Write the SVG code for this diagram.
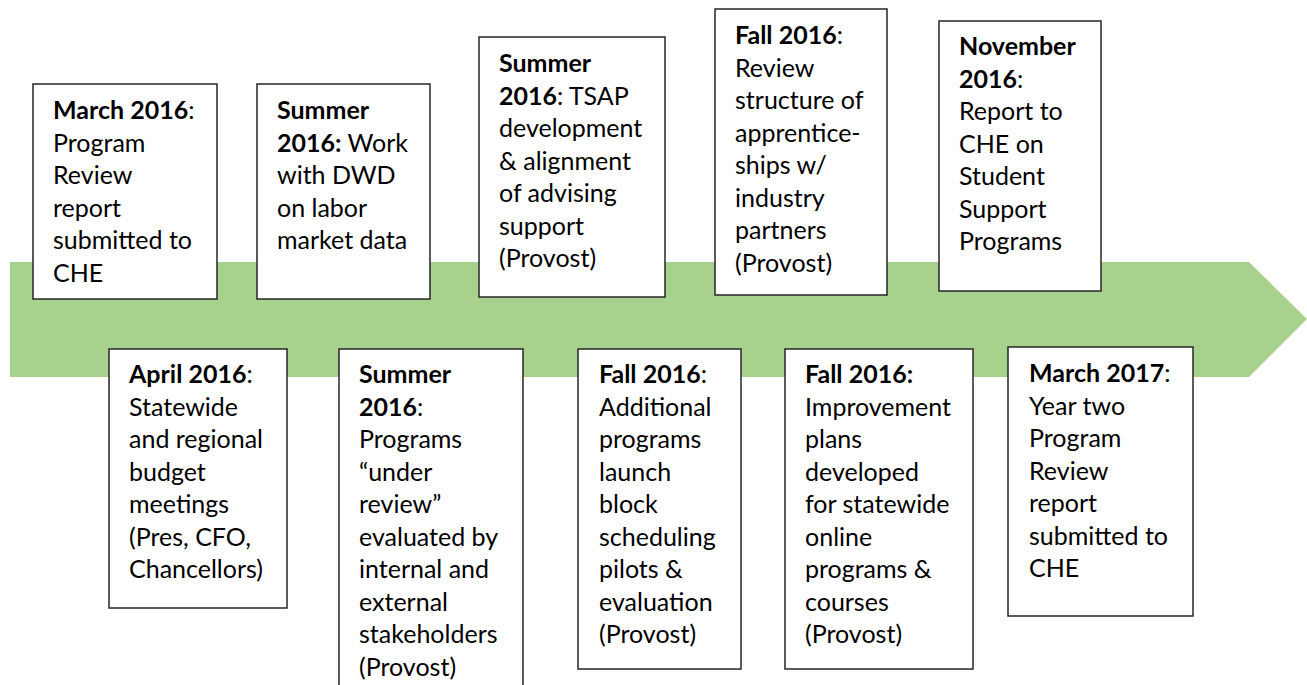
<svg xmlns="http://www.w3.org/2000/svg" width="1307" height="685" viewBox="0 0 1307 685">
<style>
.box{fill:#fff;stroke:#262626;stroke-width:1.5}
.t{font-family:Lato,"Open Sans",sans-serif;font-size:25px;fill:#000}
.b{font-weight:bold}
</style>
<rect width="1307" height="685" fill="#fff"/>
<g id="connectors">
<polygon id="timeline" points="10,262 1249,262 1307,319 1249,377 10,377" fill="#A9D18E"/>
</g>
<g id="n1">
<rect class="box" x="33" y="84" width="184" height="215"/>
<text class="t" x="53" y="119"><tspan class="b">March 2016</tspan>:<tspan x="53" dy="32.5">Program</tspan><tspan x="53" dy="32.5">Review</tspan><tspan x="53" dy="32.5">report</tspan><tspan x="53" dy="32.5">submitted to</tspan><tspan x="53" dy="32.5">CHE</tspan></text>
</g>
<g id="n2">
<rect class="box" x="257" y="84" width="173" height="215"/>
<text class="t" x="277" y="119"><tspan class="b">Summer</tspan><tspan x="277" dy="32.5" class="b">2016:</tspan> Work<tspan x="277" dy="32.5">with DWD</tspan><tspan x="277" dy="32.5">on labor</tspan><tspan x="277" dy="32.5">market data</tspan></text>
</g>
<g id="n3">
<rect class="box" x="479" y="37" width="186" height="260"/>
<text class="t" x="499" y="72"><tspan class="b">Summer</tspan><tspan x="499" dy="32.5" class="b">2016</tspan>: TSAP<tspan x="499" dy="32.5">development</tspan><tspan x="499" dy="32.5">&amp; alignment</tspan><tspan x="499" dy="32.5">of advising</tspan><tspan x="499" dy="32.5">support</tspan><tspan x="499" dy="32.5">(Provost)</tspan></text>
</g>
<g id="n4">
<rect class="box" x="715" y="9" width="172" height="286"/>
<text class="t" x="735" y="44"><tspan class="b">Fall 2016</tspan>:<tspan x="735" dy="32.5">Review</tspan><tspan x="735" dy="32.5">structure of</tspan><tspan x="735" dy="32.5">apprentice-</tspan><tspan x="735" dy="32.5">ships w/</tspan><tspan x="735" dy="32.5">industry</tspan><tspan x="735" dy="32.5">partners</tspan><tspan x="735" dy="32.5">(Provost)</tspan></text>
</g>
<g id="n5">
<rect class="box" x="939" y="21" width="162" height="270"/>
<text class="t" x="959" y="55"><tspan class="b">November</tspan><tspan x="959" dy="32.5" class="b">2016</tspan>:<tspan x="959" dy="32.5">Report to</tspan><tspan x="959" dy="32.5">CHE on</tspan><tspan x="959" dy="32.5">Student</tspan><tspan x="959" dy="32.5">Support</tspan><tspan x="959" dy="32.5">Programs</tspan></text>
</g>
<g id="n6">
<rect class="box" x="109" y="349" width="178" height="259"/>
<text class="t" x="129" y="383"><tspan class="b">April 2016</tspan>:<tspan x="129" dy="32.5">Statewide</tspan><tspan x="129" dy="32.5">and regional</tspan><tspan x="129" dy="32.5">budget</tspan><tspan x="129" dy="32.5">meetings</tspan><tspan x="129" dy="32.5">(Pres, CFO,</tspan><tspan x="129" dy="32.5">Chancellors)</tspan></text>
</g>
<g id="n7">
<rect class="box" x="339" y="349" width="184" height="360"/>
<text class="t" x="359" y="383"><tspan class="b">Summer</tspan><tspan x="359" dy="32.5" class="b">2016</tspan>:<tspan x="359" dy="32.5">Programs</tspan><tspan x="359" dy="32.5">“under</tspan><tspan x="359" dy="32.5">review”</tspan><tspan x="359" dy="32.5">evaluated by</tspan><tspan x="359" dy="32.5">internal and</tspan><tspan x="359" dy="32.5">external</tspan><tspan x="359" dy="32.5">stakeholders</tspan><tspan x="359" dy="32.5">(Provost)</tspan></text>
</g>
<g id="n8">
<rect class="box" x="578" y="349" width="163" height="320"/>
<text class="t" x="599" y="383"><tspan class="b">Fall 2016</tspan>:<tspan x="599" dy="32.5">Additional</tspan><tspan x="599" dy="32.5">programs</tspan><tspan x="599" dy="32.5">launch</tspan><tspan x="599" dy="32.5">block</tspan><tspan x="599" dy="32.5">scheduling</tspan><tspan x="599" dy="32.5">pilots &amp;</tspan><tspan x="599" dy="32.5">evaluation</tspan><tspan x="599" dy="32.5">(Provost)</tspan></text>
</g>
<g id="n9">
<rect class="box" x="785" y="349" width="188" height="320"/>
<text class="t" x="805" y="383"><tspan class="b">Fall 2016:</tspan><tspan x="805" dy="32.5">Improvement</tspan><tspan x="805" dy="32.5">plans</tspan><tspan x="805" dy="32.5">developed</tspan><tspan x="805" dy="32.5">for statewide</tspan><tspan x="805" dy="32.5">online</tspan><tspan x="805" dy="32.5">programs &amp;</tspan><tspan x="805" dy="32.5">courses</tspan><tspan x="805" dy="32.5">(Provost)</tspan></text>
</g>
<g id="n10">
<rect class="box" x="1008" y="347" width="185" height="269"/>
<text class="t" x="1029" y="382"><tspan class="b">March 2017</tspan>:<tspan x="1029" dy="32.5">Year two</tspan><tspan x="1029" dy="32.5">Program</tspan><tspan x="1029" dy="32.5">Review</tspan><tspan x="1029" dy="32.5">report</tspan><tspan x="1029" dy="32.5">submitted to</tspan><tspan x="1029" dy="32.5">CHE</tspan></text>
</g>
</svg>
